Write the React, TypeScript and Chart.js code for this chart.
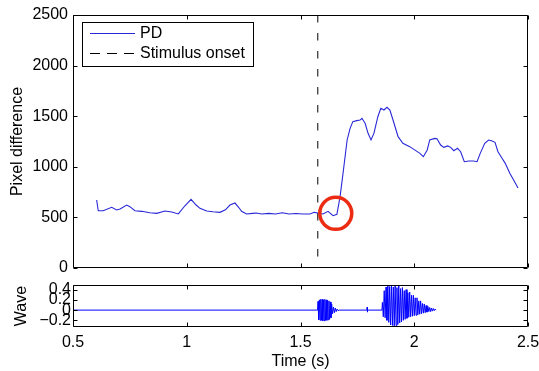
import React, { useEffect, useRef } from 'react';
import { Chart, registerables } from 'chart.js';

Chart.register(...registerables);

// ---------- data ----------
const pdTime = [
  0.604, 0.611, 0.633, 0.67, 0.692, 0.707, 0.736, 0.75, 0.772, 0.802, 0.838, 0.868, 0.904, 0.934, 0.963,
  0.99, 1.019, 1.04, 1.058, 1.088, 1.115, 1.146, 1.17, 1.19, 1.212, 1.228, 1.241, 1.263, 1.29, 1.305,
  1.33, 1.36, 1.39, 1.42, 1.45, 1.48, 1.51, 1.542, 1.56, 1.576, 1.599, 1.621, 1.643, 1.66, 1.674,
  1.687, 1.705, 1.718, 1.73, 1.747, 1.762, 1.77, 1.784, 1.797, 1.81, 1.823, 1.84, 1.853, 1.867, 1.88,
  1.893, 1.911, 1.929, 1.95, 1.98, 2.0, 2.025, 2.04, 2.057, 2.068, 2.09, 2.1, 2.116, 2.13, 2.147,
  2.16, 2.174, 2.19, 2.204, 2.22, 2.24, 2.26, 2.276, 2.29, 2.31, 2.327, 2.34, 2.355, 2.368, 2.386,
  2.4, 2.42, 2.435, 2.456,
];
const pdValue = [
  672, 566, 566, 600, 573, 583, 622, 606, 566, 560, 546, 540, 563, 553, 534,
  610, 679, 625, 590, 563, 556, 550, 575, 622, 642, 600, 560, 534, 540, 543,
  534, 540, 534, 546, 534, 538, 534, 534, 550, 543, 534, 560, 517, 530, 705,
  936, 1265, 1380, 1446, 1456, 1462, 1479, 1430, 1331, 1265, 1333, 1495, 1578, 1561, 1588,
  1561, 1430, 1298, 1232, 1199, 1170, 1133, 1100, 1166, 1265, 1281, 1278, 1215, 1192, 1206,
  1192, 1159, 1183, 1149, 1050, 1057, 1057, 1050, 1133, 1232, 1265, 1258, 1242, 1149, 1084,
  1034, 936, 876, 790,
];
const onsetTime = 1.576;
const markerTime = [1.655];
const markerValue = [540];

const waveTime = [
  0.5, 1.575,
  1.577, 1.58, 1.583, 1.586, 1.589, 1.592, 1.595, 1.598, 1.601, 1.604, 1.607, 1.61, 1.613, 1.616,
  1.619, 1.622, 1.625, 1.628, 1.631, 1.634, 1.637,
  1.641, 1.645, 1.649, 1.653, 1.657, 1.661, 1.665, 1.67,
  1.792, 1.793, 1.794, 1.795,
  1.858,
  1.86, 1.864, 1.868, 1.872, 1.876, 1.88, 1.884, 1.888, 1.892, 1.896, 1.9, 1.904, 1.908, 1.912,
  1.916, 1.92, 1.924, 1.928, 1.932, 1.936, 1.94, 1.944, 1.948, 1.952, 1.956, 1.96, 1.964, 1.968,
  1.972, 1.976, 1.98, 1.984, 1.988, 1.992, 1.996, 2.0, 2.004, 2.008, 2.012, 2.016, 2.02, 2.024,
  2.028, 2.032, 2.036, 2.04, 2.044, 2.048, 2.052, 2.056, 2.06, 2.064, 2.068, 2.072, 2.076, 2.08,
  2.084, 2.088, 2.092, 2.096,
];
const waveValue = [
  0, 0,
  0.17, -0.19, 0.2, -0.2, 0.21, -0.2, 0.21, -0.21, 0.2, -0.21, 0.21, -0.2, 0.2, -0.2,
  0.19, -0.19, 0.18, -0.18, 0.16, -0.15, 0.12,
  -0.07, 0.06, -0.05, 0.04, -0.03, 0.02, -0.01, 0,
  0, 0.06, -0.04, 0,
  0,
  0.15, -0.13, 0.38, -0.15, 0.45, -0.2, 0.49, -0.24, 0.46, -0.29, 0.49, -0.3, 0.45, -0.31,
  0.49, -0.3, 0.44, -0.28, 0.47, -0.25, 0.42, -0.23, 0.44, -0.2, 0.38, -0.18, 0.4, -0.16,
  0.34, -0.14, 0.35, -0.13, 0.29, -0.12, 0.29, -0.11, 0.24, -0.1, 0.24, -0.09, 0.18, -0.08,
  0.18, -0.07, 0.13, -0.06, 0.12, -0.05, 0.09, -0.04, 0.07, -0.03, 0.05, -0.03, 0.04, -0.02,
  0.03, -0.01, 0.02, 0,
];

const xTickValues = [0.5, 1, 1.5, 2, 2.5];
const pdTickValues = [0, 500, 1000, 1500, 2000, 2500];
const waveTickValues = [-0.2, 0, 0.2, 0.4];
const xRange = [0.5, 2.5];
const pdRange = [0, 2500];
const waveRange = [-0.33, 0.49];

const FONT = "'Liberation Sans', Arial, Helvetica, sans-serif";
const W = 539;
const H = 371;

Chart.defaults.font.family = FONT;
Chart.defaults.font.size = 16;
Chart.defaults.color = '#000';

function framePlugin(xTicks: number[], yTicks: number[]) {
  return {
    id: 'frame',
    afterDatasetsDraw(chart: any) {
      const { ctx, chartArea } = chart;
      const xs = chart.scales.x;
      const ys = chart.scales.y;
      const L = Math.round(chartArea.left) + 0.5;
      const R = Math.round(chartArea.right) - 0.5;
      const T = Math.round(chartArea.top) + 0.5;
      const B = Math.round(chartArea.bottom) - 0.5;
      const tl = 4;
      ctx.save();
      ctx.strokeStyle = '#000';
      ctx.lineWidth = 1;
      ctx.setLineDash([]);
      ctx.beginPath();
      ctx.rect(L, T, R - L, B - T);
      for (const v of xTicks) {
        const p = Math.round(xs.getPixelForValue(v)) + 0.5;
        ctx.moveTo(p, B);
        ctx.lineTo(p, B - tl);
        ctx.moveTo(p, T);
        ctx.lineTo(p, T + tl);
      }
      for (const v of yTicks) {
        const p = Math.round(ys.getPixelForValue(v)) + 0.5;
        ctx.moveTo(L, p);
        ctx.lineTo(L + tl, p);
        ctx.moveTo(R, p);
        ctx.lineTo(R - tl, p);
      }
      ctx.stroke();
      ctx.restore();
    },
  };
}

const legendPlugin = {
  id: 'boxLegend',
  afterDraw(chart: any) {
    const { ctx, chartArea } = chart;
    const x0 = chartArea.left + 9;
    const y0 = chartArea.top + 7;
    const w = 171;
    const h = 44;
    ctx.save();
    ctx.fillStyle = '#fff';
    ctx.fillRect(x0, y0, w, h);
    ctx.strokeStyle = '#000';
    ctx.lineWidth = 1;
    ctx.setLineDash([]);
    ctx.strokeRect(Math.round(x0) + 0.5, Math.round(y0) + 0.5, w, h);
    const entries = [chart.data.datasets[1], chart.data.datasets[2]];
    entries.forEach((ds: any, i: number) => {
      const y = Math.round(y0 + 11 + i * 20) + 0.5;
      ctx.beginPath();
      ctx.strokeStyle = ds.borderColor;
      ctx.lineWidth = 1;
      ctx.setLineDash(ds.legendDash || []);
      ctx.moveTo(x0 + 8, y);
      ctx.lineTo(x0 + 53, y);
      ctx.stroke();
      ctx.setLineDash([]);
      ctx.fillStyle = '#000';
      ctx.font = `16px ${FONT}`;
      ctx.textBaseline = 'middle';
      ctx.textAlign = 'left';
      ctx.fillText(ds.label, x0 + 58, y);
    });
    ctx.restore();
  },
};

const fmt = (v: number) => (v < 0 ? '\u2212' + String(Math.abs(v)) : String(v));

const noPadX = (s: any, h?: number) => {
  s.paddingLeft = 0;
  s.paddingRight = 0;
  if (h !== undefined) s.height = h;
};

export default function App() {
  const topRef = useRef<HTMLCanvasElement>(null);
  const botRef = useRef<HTMLCanvasElement>(null);

  useEffect(() => {
    const top = new Chart(topRef.current as HTMLCanvasElement, {
      type: 'line',
      data: {
        datasets: [
          {
            type: 'scatter',
            label: 'marker',
            data: markerTime.map((t, i) => ({ x: t, y: markerValue[i] })),
            pointRadius: 16,
            pointStyle: 'circle',
            borderColor: 'rgb(236,44,18)',
            backgroundColor: 'rgba(0,0,0,0)',
            borderWidth: 3.5,
            order: 0,
          } as any,
          {
            label: 'PD',
            data: pdTime.map((t, i) => ({ x: t, y: pdValue[i] })),
            borderColor: 'rgb(40,40,215)',
            borderWidth: 1.1,
            pointRadius: 0,
            tension: 0,
            fill: false,
            order: 1,
          },
          {
            label: 'Stimulus onset',
            data: [
              { x: onsetTime, y: pdRange[1] },
              { x: onsetTime, y: pdRange[0] },
            ],
            borderColor: '#000',
            borderWidth: 1,
            borderDash: [7.5, 10.5],
            legendDash: [10, 7],
            pointRadius: 0,
            fill: false,
            order: 2,
          } as any,
        ],
      },
      options: {
        animation: false,
        responsive: false,
        devicePixelRatio: 1,
        layout: { autoPadding: false, padding: { top: 15, right: 11, bottom: H - 268, left: 0 } },
        plugins: { legend: { display: false }, tooltip: { enabled: false } },
        scales: {
          x: {
            type: 'linear',
            display: false,
            min: xRange[0],
            max: xRange[1],
            afterFit: (s: any) => noPadX(s),
          },
          y: {
            type: 'linear',
            min: pdRange[0],
            max: pdRange[1],
            afterFit: (s: any) => {
              s.width = 73;
            },
            afterBuildTicks: (s: any) => {
              s.ticks = pdTickValues.map((v) => ({ value: v }));
            },
            grid: { display: false, drawTicks: false },
            border: { display: false },
            ticks: { padding: 5, autoSkip: false, callback: (v: any) => fmt(Number(v)) },
            title: { display: true, text: 'Pixel difference', padding: { top: 7.5, bottom: 0 } },
          },
        },
      },
      plugins: [framePlugin(xTickValues, pdTickValues), legendPlugin],
    } as any);

    const bot = new Chart(botRef.current as HTMLCanvasElement, {
      type: 'line',
      data: {
        datasets: [
          {
            label: 'Wave',
            data: waveTime.map((t, i) => ({ x: t, y: waveValue[i] })),
            borderColor: 'rgb(0,0,255)',
            borderWidth: 1,
            pointRadius: 0,
            tension: 0,
            fill: false,
          },
        ],
      },
      options: {
        animation: false,
        responsive: false,
        devicePixelRatio: 1,
        layout: { autoPadding: false, padding: { top: 285, right: 11, bottom: 0, left: 0 } },
        plugins: { legend: { display: false }, tooltip: { enabled: false } },
        scales: {
          x: {
            type: 'linear',
            min: xRange[0],
            max: xRange[1],
            afterFit: (s: any) => noPadX(s, H - 327),
            afterBuildTicks: (s: any) => {
              s.ticks = xTickValues.map((v) => ({ value: v }));
            },
            grid: { display: false, drawTicks: false },
            border: { display: false },
            ticks: { padding: 6, autoSkip: false, maxRotation: 0, callback: (v: any) => fmt(Number(v)) },
            title: { display: true, text: 'Time (s)', padding: { top: 0, bottom: 0 } },
          },
          y: {
            type: 'linear',
            min: waveRange[0],
            max: waveRange[1],
            afterFit: (s: any) => {
              s.width = 73;
            },
            afterBuildTicks: (s: any) => {
              s.ticks = waveTickValues.map((v) => ({ value: v }));
            },
            grid: { display: false, drawTicks: false },
            border: { display: false },
            ticks: { padding: 2, autoSkip: false, callback: (v: any) => fmt(Number(v)) },
            title: { display: true, text: 'Wave', padding: { top: 11.5, bottom: 0 } },
          },
        },
      },
      plugins: [framePlugin(xTickValues, waveTickValues)],
    } as any);

    return () => {
      top.destroy();
      bot.destroy();
    };
  }, []);

  const canvasStyle: React.CSSProperties = {
    position: 'absolute',
    left: 0,
    top: 0,
    width: W,
    height: H,
  };

  return (
    <div style={{ position: 'absolute', left: 0, top: 0, width: W, height: H, background: '#fff' }}>
      <canvas ref={topRef} width={W} height={H} style={canvasStyle} />
      <canvas ref={botRef} width={W} height={H} style={canvasStyle} />
    </div>
  );
}
